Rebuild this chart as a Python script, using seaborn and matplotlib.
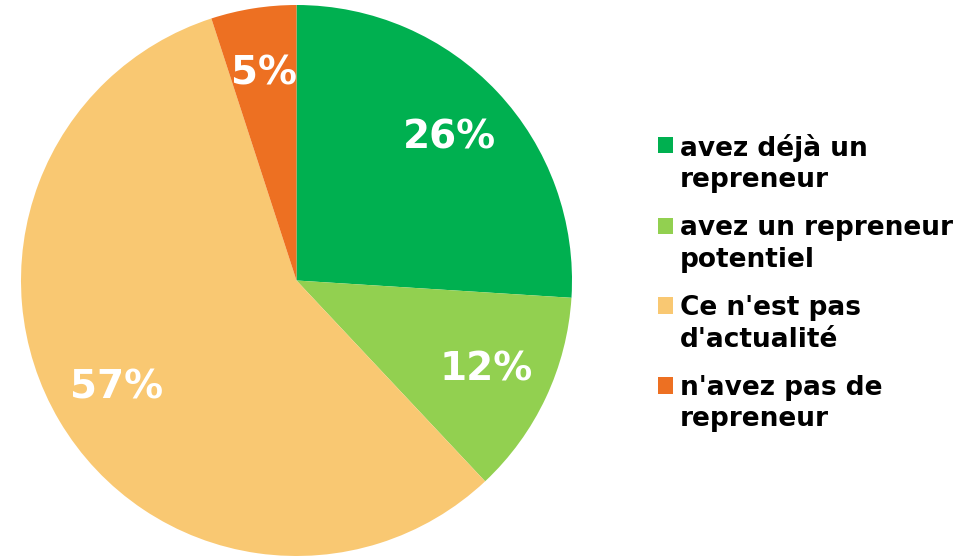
import matplotlib
matplotlib.use("Agg")
import seaborn as sns
import matplotlib.pyplot as plt
from matplotlib.patches import Rectangle
from matplotlib.legend_handler import HandlerPatch

# data
labels = ["avez déjà un\nrepreneur", "avez un repreneur\npotentiel",
          "Ce n'est pas\nd'actualité", "n'avez pas de\nrepreneur"]
values = [26, 12, 57, 5]
colors = ["#00B050", "#92D050", "#F9C872", "#ED7022"]

sns.set_theme(style="white")
plt.rcParams['font.family'] = ['DejaVu Sans']


# square marker next to the first line of a two-line label
def top_square(legend, orig_handle, xdescent, ydescent, width, height, fontsize):
    return Rectangle((-xdescent, -ydescent + 0.72 * fontsize), width, height)


fig = plt.figure(figsize=(9.69, 5.56), dpi=100)
ax = fig.add_axes([21/969, 0, 551/969, 551/556])

wedges, texts, autotexts = ax.pie(values, colors=colors, startangle=90, counterclock=False,
                                  autopct='%1.0f%%', pctdistance=0.76, radius=1,
                                  wedgeprops=dict(linewidth=0),
                                  textprops=dict(color="white", fontsize=28, fontweight="bold"))
ax.set_xlim(-1, 1)
ax.set_ylim(-1, 1)
ax.set_aspect('equal')

leg = fig.legend(wedges, labels, loc='center left', bbox_to_anchor=(658/969, 0.491),
                 frameon=False, borderpad=0, borderaxespad=0,
                 handlelength=0.57, handleheight=0.57, handletextpad=0.27,
                 labelspacing=0.85, prop=dict(size=19, weight='bold'),
                 handler_map={w: HandlerPatch(patch_func=top_square) for w in wedges})
for t in leg.get_texts():
    t.set_color("black")
    t.set_linespacing(1.27)

fig.savefig("out.png", dpi=100)
